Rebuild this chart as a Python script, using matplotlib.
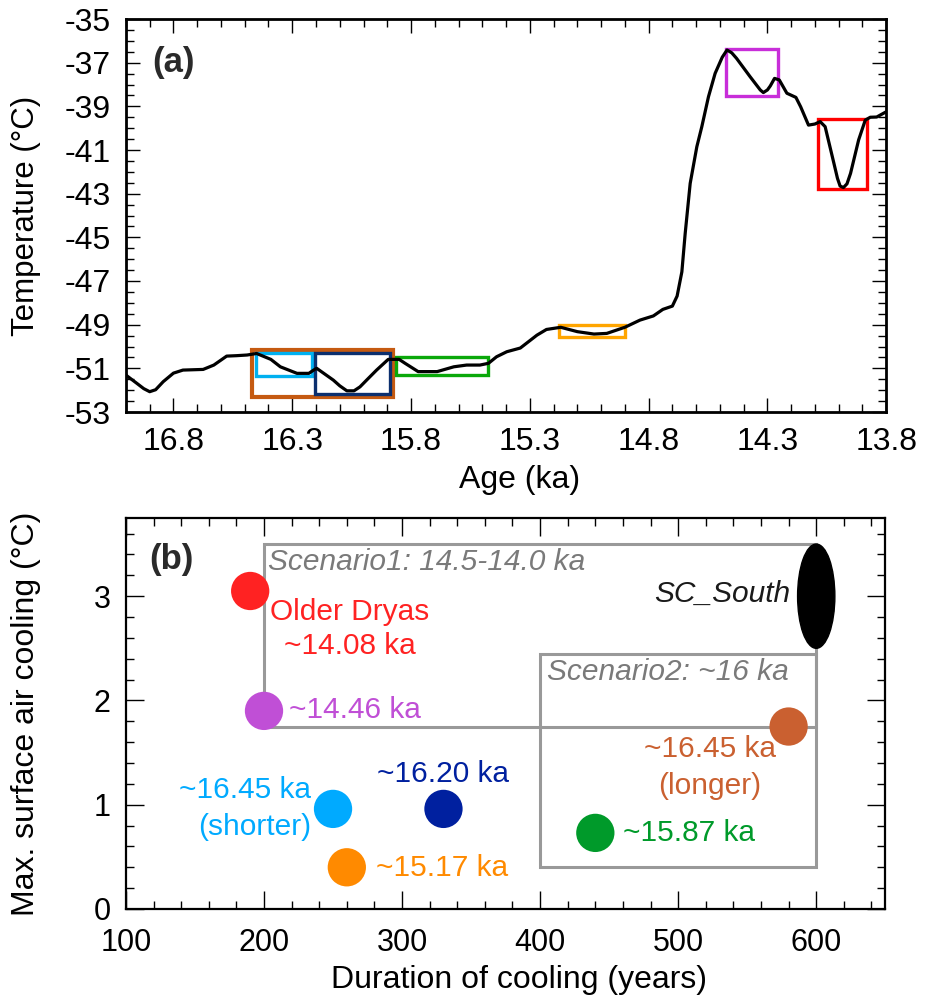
import numpy as np
import matplotlib
matplotlib.use("Agg")
import matplotlib.pyplot as plt
from matplotlib.patches import Rectangle, Ellipse
from matplotlib.ticker import MultipleLocator

plt.rcParams['font.family'] = ['Liberation Sans', 'DejaVu Sans']
plt.rcParams['axes.unicode_minus'] = False

# ---- panel (a): temperature record ----
age = [17.00, 16.955, 16.925, 16.90, 16.875, 16.843, 16.80, 16.76, 16.675, 16.63,
       16.576, 16.534, 16.49, 16.45, 16.39, 16.35, 16.28, 16.23, 16.21, 16.197,
       16.127, 16.10, 16.07, 16.04, 16.015, 15.987, 15.945, 15.896, 15.85, 15.825,
       15.77, 15.69, 15.62, 15.566, 15.51, 15.474, 15.44, 15.397, 15.34, 15.27,
       15.23, 15.17, 15.10, 15.03, 14.976, 14.90, 14.836, 14.78, 14.74, 14.70,
       14.68, 14.66, 14.646, 14.625, 14.597, 14.576, 14.548, 14.52, 14.49, 14.47,
       14.45, 14.43, 14.373, 14.33, 14.317, 14.30, 14.288, 14.27, 14.25, 14.218,
       14.18, 14.16, 14.127, 14.10, 14.078, 14.057, 14.02, 14.005, 13.994, 13.98,
       13.965, 13.95, 13.916, 13.888, 13.867, 13.84, 13.80]
temp = [-51.31, -51.68, -51.93, -52.07, -51.98, -51.61, -51.22, -51.08, -51.05, -50.85,
        -50.44, -50.42, -50.39, -50.32, -50.59, -50.93, -51.23, -51.23, -51.08, -51.00,
        -51.54, -51.80, -52.03, -52.03, -51.85, -51.54, -51.08, -50.59, -50.59, -50.77,
        -51.15, -51.15, -50.93, -50.85, -50.85, -50.77, -50.47, -50.24, -50.07, -49.48,
        -49.22, -49.12, -49.32, -49.43, -49.40, -49.12, -48.79, -48.60, -48.30, -48.15,
        -47.69, -46.58, -44.82, -42.53, -40.85, -39.93, -38.56, -37.49, -36.75, -36.42,
        -36.55, -36.80, -37.64, -38.25, -38.37, -38.25, -38.07, -37.72, -37.79, -38.40,
        -38.59, -39.02, -39.86, -39.81, -39.70, -39.93, -41.61, -42.30, -42.65, -42.72,
        -42.55, -42.07, -40.54, -39.63, -39.50, -39.49, -39.25]

# cooling event boxes: (older age, younger age, low T, high T)
box_old = [16.468, 16.454, 16.204, 15.863, 15.178, 14.474, 14.089]
box_young = [15.875, 16.216, 15.888, 15.474, 14.898, 14.256, 13.881]
box_low = [-52.30, -51.35, -52.18, -51.31, -49.58, -38.51, -42.80]
box_high = [-50.16, -50.28, -50.28, -50.50, -49.02, -36.39, -39.58]
box_colors = ['#C55A11', '#00B0F0', '#0B2F6E', '#0AA80A', '#FFA500', '#C82ED9', '#FF0000']
box_lw = [3.0, 2.4, 2.4, 2.4, 2.4, 2.4, 2.4]

# ---- panel (b): duration vs cooling ----
dur = [190, 200, 250, 330, 260, 580, 440]
cool = [3.05, 1.90, 0.96, 0.96, 0.40, 1.75, 0.73]
pt_colors = ['#FF2222', '#C04FD6', '#00AAFF', '#00209F', '#FF8A00', '#CA6030', '#009A2A']
sc_dur, sc_cool = 600, 3.0

fig = plt.figure(figsize=(9.26, 10), dpi=100)
ax1 = fig.add_axes([0.136, 0.588, 0.821, 0.393])
ax2 = fig.add_axes([0.136, 0.091, 0.820, 0.391])

ax1.plot(age, temp, color='black', lw=2.3, zorder=3, solid_joinstyle='round')
for i in range(len(box_old)):
    r = Rectangle((box_young[i], box_low[i]), box_old[i] - box_young[i],
                  box_high[i] - box_low[i], fill=False, ec=box_colors[i],
                  lw=box_lw[i], zorder=2)
    ax1.add_patch(r)

ax1.set_xlim(17.0, 13.8)
ax1.set_ylim(-53, -35)
xt = [16.8, 16.3, 15.8, 15.3, 14.8, 14.3, 13.8]
ax1.set_xticks(xt)
ax1.set_xticklabels(['%.1f' % v for v in xt])
ax1.xaxis.set_minor_locator(MultipleLocator(0.1))
yt = np.arange(-53, -34, 2)
ax1.set_yticks(yt)
ax1.set_yticklabels(['%d' % v for v in yt])
ax1.yaxis.set_minor_locator(MultipleLocator(0.5))
ax1.set_xlabel('Age (ka)', fontsize=23)
ax1.xaxis.set_label_coords(0.518, -0.135)
ax1.set_ylabel('Temperature (°C)', fontsize=22.5)
ax1.yaxis.set_label_coords(-0.112, 0.5)
ax1.text(16.89, -37.0, '(a)', fontsize=25, fontweight='bold', color='#2a2a2a',
         va='center', ha='left')

# scenario boxes
ax2.add_patch(Rectangle((200, 1.75), 400, 1.75, fill=False, ec='#999999', lw=2.2, zorder=1))
ax2.add_patch(Rectangle((400, 0.40), 200, 2.05, fill=False, ec='#999999', lw=2.2, zorder=1))
ax2.scatter(dur, cool, s=760, c=pt_colors, edgecolors='none', zorder=3)
ax2.add_patch(Ellipse((sc_dur, sc_cool), 27, 1.0, color='black', zorder=3))

fs = 21.5
ax2.text(203, 3.33, 'Scenario1: 14.5-14.0 ka', fontsize=fs, style='italic',
         color='#7a7a7a', va='center', ha='left')
ax2.text(405, 2.27, 'Scenario2: ~16 ka', fontsize=fs, style='italic',
         color='#7a7a7a', va='center', ha='left')
ax2.text(581, 3.02, 'SC_South', fontsize=fs, style='italic', color='#1a1a1a',
         va='center', ha='right')
ax2.text(262, 2.85, 'Older Dryas', fontsize=fs, color=pt_colors[0], va='center', ha='center')
ax2.text(262, 2.52, '~14.08 ka', fontsize=fs, color=pt_colors[0], va='center', ha='center')
ax2.text(218, 1.91, '~14.46 ka', fontsize=fs, color=pt_colors[1], va='center', ha='left')
ax2.text(234, 1.14, '~16.45 ka', fontsize=fs, color=pt_colors[2], va='center', ha='right')
ax2.text(234, 0.79, '(shorter)', fontsize=fs, color=pt_colors[2], va='center', ha='right')
ax2.text(282, 1.29, '~16.20 ka', fontsize=fs, color=pt_colors[3], va='center', ha='left')
ax2.text(281, 0.39, '~15.17 ka', fontsize=fs, color=pt_colors[4], va='center', ha='left')
ax2.text(523, 1.53, '~16.45 ka', fontsize=fs, color=pt_colors[5], va='center', ha='center')
ax2.text(523, 1.18, '(longer)', fontsize=fs, color=pt_colors[5], va='center', ha='center')
ax2.text(460, 0.73, '~15.87 ka', fontsize=fs, color=pt_colors[6], va='center', ha='left')
ax2.text(117, 3.35, '(b)', fontsize=25, fontweight='bold', color='#2a2a2a',
         va='center', ha='left')

ax2.set_xlim(100, 650)
ax2.set_ylim(0, 3.75)
ax2.set_xticks(np.arange(100, 601, 100))
ax2.xaxis.set_minor_locator(MultipleLocator(20))
ax2.set_yticks([0, 1, 2, 3])
ax2.yaxis.set_minor_locator(MultipleLocator(0.2))
ax2.set_xlabel('Duration of cooling (years)', fontsize=23)
ax2.xaxis.set_label_coords(0.518, -0.143)
ax2.set_ylabel('Max. surface air cooling (°C)', fontsize=23)
ax2.yaxis.set_label_coords(-0.112, 0.5)

for ax, lw in [(ax1, 2.0), (ax2, 1.6)]:
    for s in ax.spines.values():
        s.set_linewidth(lw)
    ax.tick_params(which='both', direction='in', top=True, right=True,
                   labelsize=23, width=1.0, colors='black')
    ax.tick_params(which='major', length=10)
    ax.tick_params(which='minor', length=6)
    ax.tick_params(axis='y', which='major', pad=11)
    ax.tick_params(axis='x', which='major', pad=11)
ax2.tick_params(which='major', length=13, labelsize=22)
ax2.tick_params(axis='x', which='major', pad=14)

fig.savefig('out.png', dpi=100)
